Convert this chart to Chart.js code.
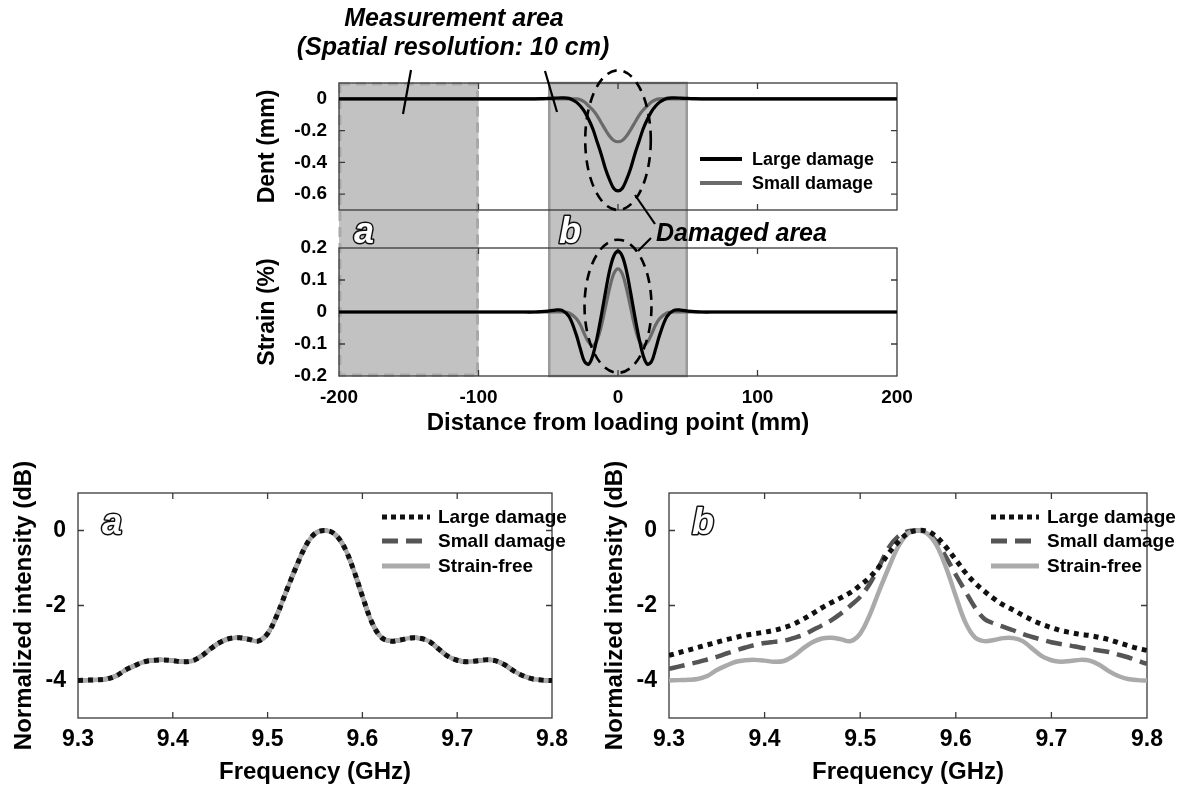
<!DOCTYPE html>
<html><head><meta charset="utf-8">
<script src="https://cdn.jsdelivr.net/npm/chart.js@4.4.1/dist/chart.umd.min.js"></script>
<style>
html,body{margin:0;padding:0;background:#fff;}
#wrap{position:relative;width:1178px;height:787px;overflow:hidden;background:#fff;}
canvas{position:absolute;left:0;top:0;}
</style></head><body>
<div id="wrap">
<canvas id="cDent" width="1178" height="787"></canvas>
<canvas id="cStrain" width="1178" height="787"></canvas>
<canvas id="cA" width="1178" height="787"></canvas>
<canvas id="cB" width="1178" height="787"></canvas>
</div>
<script>
// ---------- DATA ----------
// Top panels: distance from loading point (mm)
const distance = [-200,-150,-100,-70,-60,-55,-50,-45,-40,-35,-30,-27,-24,-21,-18,-15,-12,-9,-6,-3,0,3,6,9,12,15,18,21,24,27,30,35,40,45,50,55,60,70,100,150,200];
const dentLarge = [0,0,0,0,0,0.001,0.003,0.005,0.006,0.003,-0.02,-0.045,-0.08,-0.13,-0.19,-0.27,-0.35,-0.44,-0.51,-0.565,-0.58,-0.565,-0.51,-0.44,-0.35,-0.27,-0.19,-0.13,-0.08,-0.045,-0.02,0.003,0.006,0.005,0.003,0.001,0,0,0,0,0];
const dentSmall = [0,0,0,0,0,0,0,0,0,0,0,-0.005,-0.02,-0.045,-0.07,-0.105,-0.15,-0.195,-0.235,-0.262,-0.27,-0.262,-0.235,-0.195,-0.15,-0.105,-0.07,-0.045,-0.02,-0.005,0,0,0,0,0,0,0,0,0,0,0];
const strainLarge = [0,0,0,0,0,0.001,0.003,0.006,0.005,-0.015,-0.07,-0.115,-0.155,-0.163,-0.135,-0.08,-0.012,0.062,0.13,0.175,0.19,0.175,0.13,0.062,-0.012,-0.08,-0.135,-0.163,-0.155,-0.115,-0.07,-0.015,0.005,0.006,0.003,0.001,0,0,0,0,0];
const strainSmall = [0,0,0,0,0,0,0,0,0,-0.003,-0.02,-0.04,-0.07,-0.095,-0.105,-0.088,-0.045,0.015,0.075,0.12,0.135,0.12,0.075,0.015,-0.045,-0.088,-0.105,-0.095,-0.07,-0.04,-0.02,-0.003,0,0,0,0,0,0,0,0,0];

// Bottom panels: frequency (GHz) and normalized intensity (dB)
const freq = [9.30,9.31,9.32,9.33,9.34,9.35,9.36,9.37,9.38,9.39,9.40,9.41,9.42,9.43,9.44,9.45,9.46,9.47,9.48,9.49,9.50,9.51,9.52,9.53,9.54,9.55,9.56,9.57,9.58,9.59,9.60,9.61,9.62,9.63,9.64,9.65,9.66,9.67,9.68,9.69,9.70,9.71,9.72,9.73,9.74,9.75,9.76,9.77,9.78,9.79,9.80];
const strainFree = [-4.00,-3.99,-3.98,-3.96,-3.88,-3.72,-3.60,-3.50,-3.46,-3.45,-3.47,-3.50,-3.48,-3.35,-3.15,-2.98,-2.88,-2.86,-2.90,-2.95,-2.75,-2.25,-1.60,-0.98,-0.42,-0.08,0.00,-0.08,-0.40,-1.00,-1.75,-2.45,-2.85,-2.95,-2.92,-2.87,-2.87,-2.95,-3.15,-3.35,-3.46,-3.50,-3.48,-3.45,-3.47,-3.58,-3.75,-3.88,-3.96,-3.99,-4.00];
// Panel a: damaged spectra coincide with the strain-free spectrum
const aLargeDamage = strainFree;
const aSmallDamage = strainFree;
// Panel b
const bLargeDamage = [-3.33,-3.26,-3.19,-3.12,-3.05,-2.98,-2.91,-2.85,-2.79,-2.75,-2.71,-2.66,-2.59,-2.50,-2.37,-2.22,-2.06,-1.92,-1.79,-1.65,-1.46,-1.25,-0.96,-0.60,-0.30,-0.07,0.00,-0.02,-0.17,-0.45,-0.78,-1.12,-1.40,-1.62,-1.82,-1.99,-2.12,-2.26,-2.39,-2.50,-2.59,-2.67,-2.72,-2.77,-2.80,-2.85,-2.91,-2.99,-3.07,-3.14,-3.20];
const bSmallDamage = [-3.69,-3.63,-3.57,-3.51,-3.44,-3.37,-3.28,-3.20,-3.12,-3.05,-3.00,-2.97,-2.94,-2.87,-2.79,-2.66,-2.53,-2.39,-2.21,-2.00,-1.77,-1.42,-0.95,-0.45,-0.15,-0.02,0.00,-0.06,-0.30,-0.72,-1.18,-1.62,-2.05,-2.36,-2.48,-2.57,-2.66,-2.76,-2.84,-2.91,-2.98,-3.03,-3.07,-3.12,-3.16,-3.20,-3.24,-3.31,-3.38,-3.47,-3.56];
const bStrainFree = strainFree;

// Tick values / labels
const distTicks = [-200,-100,0,100,200];
const distTickLabels = ['-200','-100','0','100','200'];
const dentTicks = [0,-0.2,-0.4,-0.6];
const dentTickLabels = ['0','-0.2','-0.4','-0.6'];
const strainTicks = [0.2,0.1,0,-0.1,-0.2];
const strainTickLabels = ['0.2','0.1','0','-0.1','-0.2'];
const freqTicks = [9.3,9.4,9.5,9.6,9.7,9.8];
const freqTickLabels = ['9.3','9.4','9.5','9.6','9.7','9.8'];
const dbTicks = [0,-2,-4];
const dbTickLabels = ['0','-2','-4'];

// ---------- HELPERS ----------
const FAM = "'Liberation Sans', Arial, Helvetica, sans-serif";
Chart.defaults.font.family = FAM;
Chart.defaults.font.weight = 'bold';
Chart.defaults.color = '#000';
const pts = (xs, ys) => xs.map((x, i) => ({x: x, y: ys[i]}));
const fixTicks = (vals) => (s) => { s.ticks = vals.map(v => ({value: v})); };
const labelFrom = (vals, labels) => (v) => { const i = vals.findIndex(t => Math.abs(t - v) < 1e-9); return i >= 0 ? labels[i] : ''; };
const noGrid = {display: false, drawTicks: false};

const framePlugin = {
  id: 'frame',
  beforeDatasetsDraw(chart, args, o) {
    const {ctx, chartArea: a} = chart;
    const x = chart.scales.x, y = chart.scales.y;
    ctx.save();
    ctx.strokeStyle = '#3a3a3a';
    ctx.lineWidth = 1.3;
    ctx.strokeRect(a.left, a.top, a.right - a.left, a.bottom - a.top);
    const L = 6;
    ctx.beginPath();
    (o.xTicks || []).forEach(v => {
      const px = x.getPixelForValue(v);
      if (px > a.left + 2 && px < a.right - 2) {
        ctx.moveTo(px, a.top); ctx.lineTo(px, a.top + L);
        ctx.moveTo(px, a.bottom); ctx.lineTo(px, a.bottom - L);
      }
    });
    (o.yTicks || []).forEach(v => {
      const py = y.getPixelForValue(v);
      if (py > a.top + 2 && py < a.bottom - 2) {
        ctx.moveTo(a.left, py); ctx.lineTo(a.left + L, py);
        ctx.moveTo(a.right, py); ctx.lineTo(a.right - L, py);
      }
    });
    ctx.stroke();
    ctx.restore();
  }
};

const legendPlugin = {
  id: 'miniLegend',
  afterDatasetsDraw(chart, args, o) {
    if (!o.items) return;
    const ctx = chart.ctx;
    ctx.save();
    ctx.font = 'bold ' + o.size + 'px ' + FAM;
    ctx.textBaseline = 'middle';
    ctx.textAlign = 'left';
    o.items.forEach((it, i) => {
      const yy = o.ys[i];
      ctx.beginPath();
      ctx.strokeStyle = it.color;
      ctx.lineWidth = it.width;
      ctx.setLineDash(it.dash || []);
      ctx.moveTo(o.x0, yy); ctx.lineTo(o.x1, yy);
      ctx.stroke();
      ctx.setLineDash([]);
      ctx.fillStyle = '#000';
      ctx.fillText(it.label, o.tx, yy + 1);
    });
    ctx.restore();
  }
};

function outlineLetter(ctx, ch, x, y, size) {
  ctx.save();
  ctx.font = 'italic bold ' + size + 'px ' + FAM;
  ctx.textAlign = 'center';
  ctx.textBaseline = 'middle';
  ctx.lineJoin = 'round';
  ctx.lineWidth = 3;
  ctx.strokeStyle = '#111';
  ctx.strokeText(ch, x, y);
  ctx.fillStyle = '#fff';
  ctx.fillText(ch, x, y);
  ctx.restore();
}

function dashedEllipse(ctx, cx, cy, rx, ry) {
  ctx.save();
  ctx.beginPath();
  ctx.setLineDash([10, 7]);
  ctx.lineWidth = 2.6;
  ctx.strokeStyle = '#000';
  ctx.ellipse(cx, cy, rx, ry, 0, 0, Math.PI * 2);
  ctx.stroke();
  ctx.restore();
}

// Shaded measurement areas (drawn under everything, from dent chart)
const shadePlugin = {
  id: 'shade',
  beforeDraw(chart, args, o) {
    const {ctx} = chart;
    const x = chart.scales.x;
    const top = chart.chartArea.top, bot = o.bottom;
    ctx.save();
    const ax0 = x.getPixelForValue(-200), ax1 = x.getPixelForValue(-100);
    ctx.fillStyle = '#c2c2c2';
    ctx.fillRect(ax0, top, ax1 - ax0, bot - top);
    ctx.setLineDash([10, 6]);
    ctx.strokeStyle = '#a9a9a9';
    ctx.lineWidth = 3;
    ctx.strokeRect(ax0 + 1, top + 1, ax1 - ax0 - 2, bot - top - 2);
    ctx.setLineDash([]);
    const bx0 = x.getPixelForValue(-50), bx1 = x.getPixelForValue(50);
    ctx.fillStyle = '#c2c2c2';
    ctx.fillRect(bx0, top, bx1 - bx0, bot - top);
    ctx.strokeStyle = '#9a9a9a';
    ctx.lineWidth = 2.5;
    ctx.strokeRect(bx0 + 1, top, bx1 - bx0 - 2, bot - top);
    ctx.restore();
  },
  afterDatasetsDraw(chart) {
    const x = chart.scales.x, y = chart.scales.y;
    const cx = x.getPixelForValue(0);
    const rx = x.getPixelForValue(23.5) - cx;
    const yt = y.getPixelForValue(0.18), yb = y.getPixelForValue(-0.70);
    dashedEllipse(chart.ctx, cx, (yt + yb) / 2, rx, (yb - yt) / 2);
  }
};

const strainNotes = {
  id: 'notes',
  afterDatasetsDraw(chart) {
    const ctx = chart.ctx;
    const x = chart.scales.x, y = chart.scales.y;
    const cx = x.getPixelForValue(0);
    const rx = x.getPixelForValue(24) - cx;
    const yt = y.getPixelForValue(0.226), yb = y.getPixelForValue(-0.19);
    dashedEllipse(ctx, cx, (yt + yb) / 2, rx, (yb - yt) / 2);
    ctx.save();
    ctx.fillStyle = '#000';
    ctx.textAlign = 'center';
    ctx.textBaseline = 'middle';
    ctx.font = 'italic bold 25px ' + FAM;
    ctx.fillText('Measurement area', 454, 19);
    ctx.fillText('(Spatial resolution: 10 cm)', 453, 48);
    ctx.textAlign = 'left';
    ctx.fillText('Damaged area', 656, 234);
    ctx.strokeStyle = '#000';
    ctx.lineWidth = 2.2;
    ctx.beginPath();
    ctx.moveTo(411, 70); ctx.lineTo(403, 114);
    ctx.moveTo(545, 71); ctx.lineTo(557, 112);
    ctx.moveTo(635, 195); ctx.lineTo(655, 224);
    ctx.moveTo(638, 251); ctx.lineTo(651, 238);
    ctx.stroke();
    ctx.restore();
    outlineLetter(ctx, 'a', 364, 233, 36);
    outlineLetter(ctx, 'b', 570, 233, 36);
  }
};

const bottomLetter = {
  id: 'letter',
  afterDatasetsDraw(chart, args, o) {
    if (o.ch) outlineLetter(chart.ctx, o.ch, o.x, o.y, 36);
  }
};

const baseOpts = () => ({
  responsive: false,
  animation: false,
  devicePixelRatio: 1,
  events: [],
  plugins: {legend: {display: false}, tooltip: {enabled: false}},
  elements: {point: {radius: 0}, line: {tension: 0.35, borderCapStyle: 'butt', borderJoinStyle: 'round'}}
});

// ---------- DENT ----------
(function(){
  const o = baseOpts();
  o.layout = {padding: {left: 250, top: 83, right: 281, bottom: 577}};
  o.scales = {
    x: {type: 'linear', min: -200, max: 200, grid: noGrid, border: {display: false},
        ticks: {display: false}, afterBuildTicks: fixTicks(distTicks), afterFit: s => { s.height = 0; }},
    y: {type: 'linear', min: -0.7, max: 0.1, grid: noGrid, border: {display: false},
        afterBuildTicks: fixTicks(dentTicks), afterFit: s => { s.width = 89; },
        ticks: {font: {size: 19, weight: 'bold'}, padding: 12, callback: labelFrom(dentTicks, dentTickLabels)},
        title: {display: true, text: 'Dent (mm)', font: {size: 23, weight: 'bold'}, padding: {top: 4, bottom: 0}}}
  };
  o.plugins.frame = {xTicks: distTicks, yTicks: dentTicks};
  o.plugins.shade = {bottom: 376};
  o.plugins.miniLegend = {size: 18, x0: 700, x1: 742, tx: 752, ys: [159, 183], items: [
    {label: 'Large damage', color: '#000', width: 4},
    {label: 'Small damage', color: '#6a6a6a', width: 4}]};
  new Chart(document.getElementById('cDent'), {
    type: 'line',
    data: {datasets: [
      {label: 'Large damage', data: pts(distance, dentLarge), borderColor: '#000', borderWidth: 3.2},
      {label: 'Small damage', data: pts(distance, dentSmall), borderColor: '#6a6a6a', borderWidth: 3.2}
    ]},
    options: o,
    plugins: [shadePlugin, framePlugin, legendPlugin]
  });
})();

// ---------- STRAIN ----------
(function(){
  const o = baseOpts();
  o.layout = {padding: {left: 250, top: 248, right: 281, bottom: 342}};
  o.scales = {
    x: {type: 'linear', min: -200, max: 200, grid: noGrid, border: {display: false},
        afterBuildTicks: fixTicks(distTicks), afterFit: s => { s.height = 69; },
        ticks: {font: {size: 19, weight: 'bold'}, padding: 10, maxRotation: 0, callback: labelFrom(distTicks, distTickLabels)},
        title: {display: true, text: 'Distance from loading point (mm)', font: {size: 24, weight: 'bold'}, padding: {top: 0, bottom: 7}}},
    y: {type: 'linear', min: -0.2, max: 0.2, grid: noGrid, border: {display: false},
        afterBuildTicks: fixTicks(strainTicks), afterFit: s => { s.width = 89; },
        ticks: {font: {size: 19, weight: 'bold'}, padding: 12, callback: labelFrom(strainTicks, strainTickLabels)},
        title: {display: true, text: 'Strain (%)', font: {size: 23, weight: 'bold'}, padding: {top: 4, bottom: 0}}}
  };
  o.plugins.frame = {xTicks: distTicks, yTicks: strainTicks};
  new Chart(document.getElementById('cStrain'), {
    type: 'line',
    data: {datasets: [
      {label: 'Large damage', data: pts(distance, strainLarge), borderColor: '#000', borderWidth: 3.2},
      {label: 'Small damage', data: pts(distance, strainSmall), borderColor: '#6a6a6a', borderWidth: 3.2}
    ]},
    options: o,
    plugins: [framePlugin, strainNotes]
  });
})();

// ---------- SPECTRA ----------
function spectrum(id, padLeft, padRight, large, small, free, letter, legX) {
  const o = baseOpts();
  o.layout = {padding: {left: padLeft, top: 493, right: padRight, bottom: 0}};
  o.scales = {
    x: {type: 'linear', min: 9.3, max: 9.8, grid: noGrid, border: {display: false},
        afterBuildTicks: fixTicks(freqTicks), afterFit: s => { s.height = 69; },
        ticks: {font: {size: 23, weight: 'bold'}, padding: 8, maxRotation: 0, callback: labelFrom(freqTicks, freqTickLabels)},
        title: {display: true, text: 'Frequency (GHz)', font: {size: 24, weight: 'bold'}, padding: {top: 0, bottom: 0}}},
    y: {type: 'linear', min: -5, max: 1, grid: noGrid, border: {display: false},
        afterBuildTicks: fixTicks(dbTicks), afterFit: s => { s.width = 78; },
        ticks: {font: {size: 23, weight: 'bold'}, padding: 12, callback: labelFrom(dbTicks, dbTickLabels)},
        title: {display: true, text: 'Normalized intensity (dB)', font: {size: 24, weight: 'bold'}, padding: {top: 10, bottom: 0}}}
  };
  o.plugins.frame = {xTicks: freqTicks, yTicks: dbTicks};
  o.plugins.letter = letter;
  o.plugins.miniLegend = {size: 19, x0: legX, x1: legX + 48, tx: legX + 56, ys: [517, 541, 566], items: [
    {label: 'Large damage', color: '#111', width: 5, dash: [5, 4]},
    {label: 'Small damage', color: '#555', width: 5, dash: [16, 8]},
    {label: 'Strain-free', color: '#aaa', width: 5}]};
  new Chart(document.getElementById(id), {
    type: 'line',
    data: {datasets: [
      {label: 'Large damage', data: pts(freq, large), borderColor: '#111', borderWidth: 5, borderDash: [5, 5], order: 0},
      {label: 'Small damage', data: pts(freq, small), borderColor: '#555', borderWidth: 4.5, borderDash: [16, 8], order: 2},
      {label: 'Strain-free', data: pts(freq, free), borderColor: '#aaa', borderWidth: 4.5, order: 1}
    ]},
    options: o,
    plugins: [framePlugin, legendPlugin, bottomLetter]
  });
}
spectrum('cA', 0, 626, aLargeDamage, aSmallDamage, strainFree, {ch: 'a', x: 112, y: 524}, 382);
spectrum('cB', 591, 31, bLargeDamage, bSmallDamage, bStrainFree, {ch: 'b', x: 703, y: 524}, 991);
</script>
</body></html>
